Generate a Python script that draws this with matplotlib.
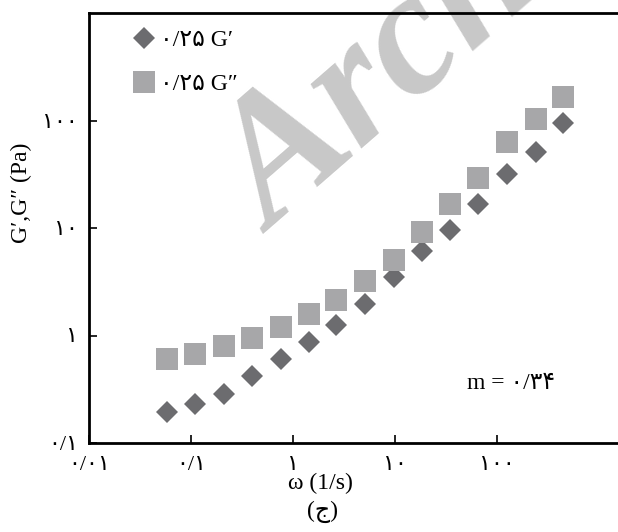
import numpy as np
import matplotlib.pyplot as plt

plt.rcParams['font.family'] = ['Liberation Serif', 'DejaVu Sans']

# فرکانس زاویه‌ای (1/s)
omega = [0.058, 0.110, 0.210, 0.394, 0.759, 1.43, 2.66, 5.12, 9.77,
         18.5, 34.8, 66.1, 126, 240, 450]
# مدول ذخیره G' (Pa)
g_storage = [0.193, 0.229, 0.285, 0.419, 0.611, 0.867, 1.25, 1.98, 3.48,
             6.1, 9.5, 16.6, 31.5, 50.7, 94.2]
# مدول اتلاف G'' (Pa)
g_loss = [0.611, 0.667, 0.800, 0.938, 1.21, 1.59, 2.16, 3.21, 5.0,
          9.16, 16.8, 29.3, 62.8, 103, 164]

x_ticks = [0.01, 0.1, 1, 10, 100]
x_labels = ['۰/۰۱', '۰/۱', '۱', '۱۰', '۱۰۰']
y_ticks = [0.1, 1, 10, 100]
y_labels = ['۰/۱', '۱', '۱۰', '۱۰۰']

fig = plt.figure(figsize=(6.18, 5.32), dpi=100)
ax = fig.add_axes([89 / 618, 89 / 532, 529 / 618, 430 / 532])

ax.plot(omega, g_storage, linestyle='none', marker='D', markersize=10.7,
        color='#6c6c6f', markeredgewidth=0, label='۰/۲۵ G′', zorder=3)
ax.plot(omega, g_loss, linestyle='none', marker='s', markersize=15.8,
        color='#a7a7a9', markeredgewidth=0, label='۰/۲۵ G″', zorder=3)

ax.set_xscale('log')
ax.set_yscale('log')
ax.set_xlim(0.01, 1545)
ax.set_ylim(0.1, 1000)
ax.minorticks_off()
ax.set_xticks(x_ticks)
ax.set_xticklabels(x_labels)
ax.set_yticks(y_ticks)
ax.set_yticklabels(y_labels)
ax.tick_params(direction='in', length=6, width=1.2, labelsize=16, color='black')
ax.tick_params(axis='x', pad=9)
ax.tick_params(axis='y', pad=8)

ax.spines['right'].set_visible(False)
for s in ['left', 'bottom', 'top']:
    ax.spines[s].set_linewidth(2.0)

ax.set_xlabel('ω (1/s)', fontsize=17)
ax.xaxis.set_label_coords(0.437, -0.07)
ax.set_ylabel('G′,G″ (Pa)', fontsize=17)
ax.yaxis.set_label_coords(-0.108, 0.581)

ax.text(0.714, 0.1395, 'm = ۰/۳۴', transform=ax.transAxes, fontsize=17,
        va='center', ha='left')

ax.legend(loc='upper left', bbox_to_anchor=(0.0813, 0.962), frameon=False,
          fontsize=17, handlelength=1.0, handletextpad=0.2, labelspacing=0.95,
          borderpad=0, borderaxespad=0)

# واترمارک
ax.text(272 / 618, 1 - 234 / 532, 'Archive of SID', transform=fig.transFigure,
        family='Liberation Serif', fontsize=128, fontstyle='italic',
        fontweight='bold', color='#c8c8c8',
        rotation=41, rotation_mode='anchor', ha='left', va='baseline',
        clip_on=False, zorder=1)

fig.text(323 / 618, 1 - 512 / 532, '(ج)', fontsize=17, ha='center', va='center')

fig.savefig('out.png', dpi=100)
